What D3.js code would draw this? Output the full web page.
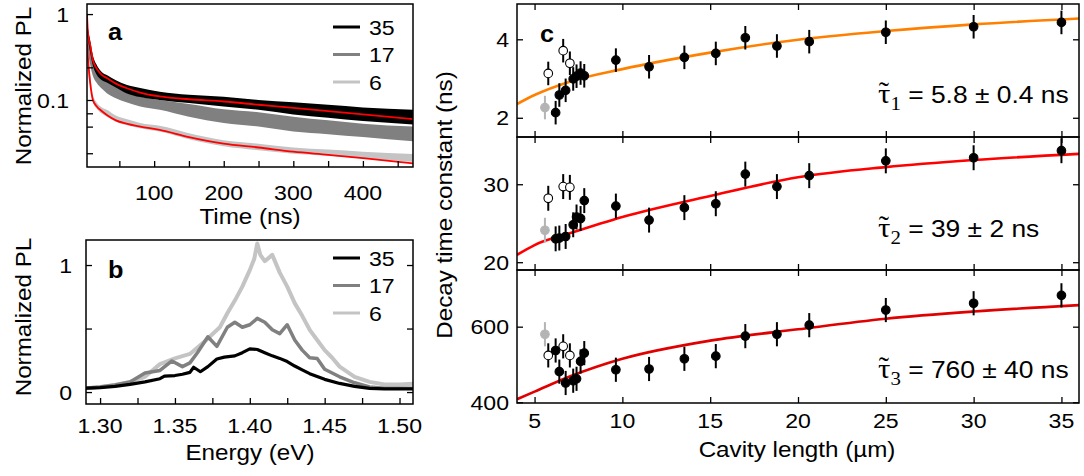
<!DOCTYPE html>
<html>
<head>
<meta charset="utf-8">
<script src="https://cdn.jsdelivr.net/npm/d3@7"></script>
<style>
  body { margin: 0; background: #fff; }
  svg { display: block; }
</style>
</head>
<body>
<svg id="fig" width="1084" height="476"></svg>
<script>
// ---------- panel a: normalized PL decay (log scale) ----------
const decayTime = [3.5, 5, 8, 12, 17, 25, 32, 45, 60, 80, 108, 150, 200, 250, 300, 350, 400, 472];
const decay35Hi = [0.85, 0.68, 0.50, 0.33, 0.26, 0.21, 0.195, 0.17, 0.15, 0.138, 0.125, 0.115, 0.109, 0.100, 0.094, 0.088, 0.082, 0.077];
const decay35Lo = [0.65, 0.50, 0.36, 0.25, 0.20, 0.17, 0.160, 0.14, 0.12, 0.108, 0.100, 0.092, 0.084, 0.077, 0.068, 0.062, 0.057, 0.052];
const decay17Hi = [0.75, 0.55, 0.40, 0.29, 0.23, 0.19, 0.170, 0.145, 0.125, 0.110, 0.100, 0.090, 0.078, 0.072, 0.064, 0.058, 0.053, 0.049];
const decay17Lo = [0.55, 0.38, 0.26, 0.19, 0.16, 0.135, 0.120, 0.105, 0.094, 0.084, 0.077, 0.064, 0.054, 0.049, 0.043, 0.040, 0.037, 0.033];
const decay6Hi  = [0.70, 0.35, 0.20, 0.115, 0.095, 0.082, 0.077, 0.066, 0.060, 0.054, 0.050, 0.041, 0.034, 0.031, 0.028, 0.0265, 0.025, 0.0235];
const decay6Lo  = [0.45, 0.22, 0.15, 0.095, 0.080, 0.069, 0.064, 0.056, 0.051, 0.047, 0.043, 0.035, 0.029, 0.026, 0.0237, 0.0225, 0.021, 0.019];
const decayFit35 = [1.00, 0.58, 0.44, 0.29, 0.235, 0.195, 0.180, 0.155, 0.138, 0.122, 0.110, 0.102, 0.096, 0.088, 0.081, 0.074, 0.068, 0.060];
const decayFit6  = [0.45, 0.30, 0.16, 0.100, 0.085, 0.074, 0.067, 0.058, 0.053, 0.049, 0.045, 0.037, 0.031, 0.028, 0.025, 0.023, 0.021, 0.0183];
const timeTicksMajor = [100, 200, 300, 400];
const timeTicksMinor = [50, 150, 250, 350, 450];
const plTicksMajor = [1, 0.1];
const plTicksMinor = [0.24, 0.07, 0.049, 0.024];

// ---------- panel b: normalized PL spectra ----------
const spec35E = [1.29, 1.30, 1.31, 1.32, 1.33, 1.34, 1.343, 1.35, 1.355, 1.36, 1.3625, 1.367, 1.372, 1.378, 1.383, 1.39, 1.395, 1.40, 1.405, 1.41, 1.415, 1.42, 1.425, 1.43, 1.435, 1.44, 1.45, 1.46, 1.47, 1.48, 1.49, 1.50, 1.51];
const spec35V = [0.03, 0.035, 0.045, 0.06, 0.08, 0.105, 0.125, 0.13, 0.14, 0.155, 0.195, 0.16, 0.2, 0.26, 0.275, 0.285, 0.31, 0.34, 0.335, 0.31, 0.285, 0.265, 0.24, 0.205, 0.175, 0.145, 0.1, 0.068, 0.045, 0.029, 0.025, 0.025, 0.025];
const spec17E = [1.29, 1.30, 1.31, 1.32, 1.33, 1.34, 1.348, 1.355, 1.36, 1.365, 1.372, 1.378, 1.385, 1.39, 1.395, 1.40, 1.405, 1.41, 1.415, 1.42, 1.425, 1.43, 1.435, 1.44, 1.445, 1.45, 1.46, 1.47, 1.48, 1.49, 1.50, 1.51];
const spec17V = [0.03, 0.04, 0.055, 0.08, 0.15, 0.17, 0.245, 0.2, 0.23, 0.31, 0.435, 0.36, 0.51, 0.55, 0.51, 0.53, 0.58, 0.55, 0.49, 0.46, 0.53, 0.41, 0.33, 0.27, 0.265, 0.18, 0.12, 0.073, 0.04, 0.03, 0.03, 0.03];
const spec6E = [1.29, 1.30, 1.31, 1.32, 1.33, 1.34, 1.35, 1.36, 1.37, 1.38, 1.385, 1.39, 1.395, 1.40, 1.403, 1.405, 1.407, 1.41, 1.415, 1.42, 1.425, 1.43, 1.435, 1.44, 1.445, 1.45, 1.455, 1.46, 1.47, 1.48, 1.49, 1.50, 1.51];
const spec6V = [0.03, 0.04, 0.055, 0.08, 0.12, 0.22, 0.265, 0.3, 0.4, 0.51, 0.62, 0.72, 0.83, 0.96, 1.05, 1.17, 1.08, 1.03, 1.08, 0.94, 0.83, 0.7, 0.6, 0.49, 0.41, 0.33, 0.27, 0.2, 0.12, 0.08, 0.06, 0.06, 0.065];
const energyTicksMajor = [1.30, 1.35, 1.40, 1.45, 1.50];
const energyTicksMinor = [1.325, 1.375, 1.425, 1.475];
const specTicks = [0, 0.5, 1];
const specTickLabels = [0, 1];

// ---------- panel c: decay time constants vs cavity length ----------
const cavL  = [6.2, 6.41, 6.77, 7.2, 7.39, 7.62, 7.83, 9.63, 11.52, 13.53, 15.32, 17.0, 18.8, 20.64, 25.0, 30.0, 35.0];
const tau1  = [2.13, 2.58, 2.70, 2.99, 3.06, 3.14, 3.07, 3.47, 3.30, 3.54, 3.64, 4.04, 3.83, 3.94, 4.18, 4.32, 4.43];
const tau2  = [23.0, 23.1, 23.3, 24.8, 25.8, 25.6, 27.9, 27.2, 25.4, 27.0, 27.5, 31.3, 29.7, 31.1, 33.0, 33.4, 34.3];
const tau3  = [537, 481, 451, 457, 462, 508, 530, 486, 488, 515, 522, 575, 580, 604, 644, 662, 683];
const openL = [5.78, 6.63, 7.01];
const open1 = [3.13, 3.71, 3.39];
const open2 = [28.2, 29.7, 29.6];
const open3 = [524, 548, 524];
const greyL = [5.59];
const grey1 = [2.26];
const grey2 = [24.1];
const grey3 = [580];
const tauErr = [0.3, 1.6, 32];
const fitL  = [4, 5, 7, 10, 15, 20, 25, 30, 36];
const fit1  = [2.35, 2.58, 2.92, 3.24, 3.66, 3.99, 4.21, 4.38, 4.53];
const fit2  = [20.94, 22.2, 23.7, 25.8, 28.5, 30.9, 32.2, 33.1, 33.9];
const fit3  = [408, 428, 468, 515, 563, 593, 621, 640, 657];
const lengthTicks = [5, 10, 15, 20, 25, 30, 35];
const tauTicks = [[2, 4], [20, 30], [400, 600]];
const tauFits = ["5.8 \u00b1 0.4 ns", "39 \u00b1 2 ns", "760 \u00b1 40 ns"];

const legendLabels = ["35", "17", "6"];
const seriesColors = ["#000000", "#808080", "#c4c4c4"];

const SANS = "'Liberation Sans', Arial, Helvetica, sans-serif";
const SERIF = "'Liberation Serif', 'Times New Roman', serif";
const SX = 1.1; // horizontal stretch of the lettering

const svg = d3.select("#fig");

function txt(g, x, y, s, o = {}) {
  const t = g.append("text")
    .attr("transform", `translate(${x},${y})${o.rotate ? ` rotate(${o.rotate})` : ""} scale(${SX},1)`)
    .attr("text-anchor", o.anchor || "middle")
    .attr("font-family", o.family || SANS)
    .attr("font-size", o.size || 21)
    .attr("font-weight", o.weight || "normal")
    .attr("fill", "#000")
    .text(s);
  if (o.dy) t.attr("dy", o.dy);
  return t;
}

function ticks(g, axisFn, scale, vals, tr, size = -6) {
  const a = g.append("g").attr("transform", tr)
    .call(axisFn(scale).tickValues(vals).tickSize(size).tickFormat(""));
  a.select(".domain").remove();
  a.selectAll("line").attr("stroke", "#000").attr("stroke-width", 1.3);
}

function frame(g, x0, y0, x1, y1) {
  g.append("rect").attr("x", x0).attr("y", y0).attr("width", x1 - x0).attr("height", y1 - y0)
    .attr("fill", "none").attr("stroke", "#000").attr("stroke-width", 1.5);
}

function clip(id, x0, y0, x1, y1) {
  svg.append("clipPath").attr("id", id).append("rect")
    .attr("x", x0).attr("y", y0).attr("width", x1 - x0).attr("height", y1 - y0);
}

// ======== panel a ========
{
  const L = 87, R = 413, T = 4, B = 167;
  const x = d3.scaleLinear([3.5, 472], [L, R]);
  const y = d3.scaleLog([0.0166, 1.31], [B, T]);
  clip("clipA", L, T, R, B);
  const g = svg.append("g");
  const plot = g.append("g").attr("clip-path", "url(#clipA)");
  const band = (hi, lo) => d3.area()
    .x((d, i) => x(decayTime[i])).y0((d, i) => y(lo[i])).y1((d, i) => y(hi[i]))
    .curve(d3.curveMonotoneX)(decayTime);
  const line = (v) => d3.line().x((d, i) => x(decayTime[i])).y((d, i) => y(v[i]))
    .curve(d3.curveMonotoneX)(decayTime);
  plot.append("path").attr("d", band(decay6Hi, decay6Lo)).attr("fill", seriesColors[2]);
  plot.append("path").attr("d", band(decay17Hi, decay17Lo)).attr("fill", seriesColors[1]);
  plot.append("path").attr("d", band(decay35Hi, decay35Lo)).attr("fill", seriesColors[0]);
  plot.append("path").attr("d", line(decayFit35)).attr("fill", "none").attr("stroke", "#ff0000").attr("stroke-width", 1.8);
  plot.append("path").attr("d", line(decayFit6)).attr("fill", "none").attr("stroke", "#ff0000").attr("stroke-width", 1.8);

  ticks(g, d3.axisBottom, x, timeTicksMajor.concat(timeTicksMinor), `translate(0,${B})`);
  ticks(g, d3.axisLeft, y, plTicksMajor.concat(plTicksMinor), `translate(${L},0)`);
  frame(g, L, T, R, B);

  timeTicksMajor.forEach(v => txt(g, x(v), 200, String(v)));
  plTicksMajor.forEach(v => txt(g, 69, y(v), String(v), { anchor: "end", dy: "0.36em" }));
  txt(g, 250, 224, "Time (ns)", { size: 22 });
  txt(g, 31, 86, "Normalized PL", { size: 22, rotate: -90 });
  txt(g, 108, 40, "a", { size: 23, weight: "bold", anchor: "start" });

  legendLabels.forEach((s, i) => {
    const ly = 27 + i * 27.5;
    g.append("line").attr("x1", 333).attr("x2", 360).attr("y1", ly).attr("y2", ly)
      .attr("stroke", seriesColors[i]).attr("stroke-width", 3);
    txt(g, 369, ly + 7.5, s, { anchor: "start" });
  });
}

// ======== panel b ========
{
  const L = 86, R = 413, T = 240, B = 404;
  const x = d3.scaleLinear([1.2906, 1.509], [L, R]);
  const y = d3.scaleLinear([-0.094, 1.197], [B, T]);
  clip("clipB", L, T, R, B);
  const g = svg.append("g");
  const plot = g.append("g").attr("clip-path", "url(#clipB)");
  const line = (E, V) => d3.line().x((d, i) => x(E[i])).y((d, i) => y(V[i])).curve(d3.curveLinear)(E);
  plot.append("path").attr("d", line(spec6E, spec6V)).attr("fill", "none").attr("stroke", seriesColors[2]).attr("stroke-width", 4).attr("stroke-linejoin", "round");
  plot.append("path").attr("d", line(spec17E, spec17V)).attr("fill", "none").attr("stroke", seriesColors[1]).attr("stroke-width", 3.5).attr("stroke-linejoin", "round");
  plot.append("path").attr("d", line(spec35E, spec35V)).attr("fill", "none").attr("stroke", seriesColors[0]).attr("stroke-width", 3.2).attr("stroke-linejoin", "round");

  ticks(g, d3.axisBottom, x, energyTicksMajor.concat(energyTicksMinor), `translate(0,${B})`);
  ticks(g, d3.axisLeft, y, specTicks, `translate(${L},0)`);
  ticks(g, d3.axisRight, y, specTicks, `translate(${R},0)`);
  frame(g, L, T, R, B);

  energyTicksMajor.forEach(v => txt(g, x(v), 433, v.toFixed(2)));
  specTickLabels.forEach(v => txt(g, 72, y(v), String(v), { anchor: "end", dy: "0.36em" }));
  txt(g, 250, 460, "Energy (eV)", { size: 22 });
  txt(g, 31, 317, "Normalized PL", { size: 22, rotate: -90 });
  txt(g, 108, 278, "b", { size: 23, weight: "bold", anchor: "start" });

  legendLabels.forEach((s, i) => {
    const ly = 258 + i * 27.5;
    g.append("line").attr("x1", 333).attr("x2", 360).attr("y1", ly).attr("y2", ly)
      .attr("stroke", seriesColors[i]).attr("stroke-width", 3);
    txt(g, 369, ly + 7.5, s, { anchor: "start" });
  });
}

// ======== panel c ========
{
  const L = 517, R = 1079;
  const rows = [[4, 137], [137, 270], [270, 403]];
  const domains = [[1.51, 4.9], [19.0, 36.06], [398, 750]];
  const vals = [tau1, tau2, tau3];
  const opens = [open1, open2, open3];
  const greys = [grey1, grey2, grey3];
  const fits = [fit1, fit2, fit3];
  const fitColors = ["#ff8000", "#ff0000", "#e00000"];
  const x = d3.scaleLinear([4, 36], [L, R]);
  const g = svg.append("g");

  rows.forEach(([T, B], k) => {
    const y = d3.scaleLinear(domains[k], [B, T]);
    const e = tauErr[k];
    clip("clipC" + k, L, T, R, B);
    const plot = g.append("g").attr("clip-path", `url(#clipC${k})`);

    plot.append("path")
      .attr("d", d3.line().x((d, i) => x(fitL[i])).y((d, i) => y(fits[k][i])).curve(d3.curveMonotoneX)(fitL))
      .attr("fill", "none").attr("stroke", fitColors[k]).attr("stroke-width", 2.6);

    const points = (Ls, Vs, fill, stroke, barColor) => {
      Ls.forEach((l, i) => {
        plot.append("line").attr("x1", x(l)).attr("x2", x(l))
          .attr("y1", y(Vs[i] - e)).attr("y2", y(Vs[i] + e))
          .attr("stroke", barColor).attr("stroke-width", 2);
        plot.append("circle").attr("cx", x(l)).attr("cy", y(Vs[i])).attr("r", 4.3)
          .attr("fill", fill).attr("stroke", stroke).attr("stroke-width", 1.1);
      });
    };
    points(greyL, greys[k], "#b4b4b4", "#b4b4b4", "#b4b4b4");
    points(openL, opens[k], "#ffffff", "#000", "#000");
    points(cavL, vals[k], "#000", "#000", "#000");

    ticks(g, d3.axisTop, x, lengthTicks, `translate(0,${T})`);
    ticks(g, d3.axisBottom, x, lengthTicks, `translate(0,${B})`);
    ticks(g, d3.axisLeft, y, tauTicks[k], `translate(${L},0)`);
    ticks(g, d3.axisRight, y, tauTicks[k], `translate(${R},0)`);
    frame(g, L, T, R, B);

    tauTicks[k].forEach(v => txt(g, 509, y(v), String(v), { anchor: "end", dy: "0.36em" }));

    // fitted asymptotic time constant
    const base = [103, 237, 378][k];
    const ann = g.append("text")
      .attr("transform", `translate(878,${base}) scale(${SX},1)`)
      .attr("font-family", SANS).attr("font-size", 24).attr("fill", "#000");
    ann.append("tspan").attr("font-family", SERIF).attr("font-size", 28).text("\u03c4");
    ann.append("tspan").attr("font-family", SERIF).attr("font-size", 19).attr("dy", 7).text(String(k + 1));
    ann.append("tspan").attr("dy", -7).text(" = " + tauFits[k]);
    g.append("text")
      .attr("transform", `translate(884,${base - 2}) scale(${SX},1)`)
      .attr("text-anchor", "middle").attr("font-family", SERIF).attr("font-size", 28)
      .attr("fill", "#000").text("\u02dc");
  });

  lengthTicks.forEach(v => txt(g, x(v), 428, String(v)));
  txt(g, 797, 457, "Cavity length (\u00b5m)", { size: 22 });
  txt(g, 452, 205, "Decay time constant (ns)", { size: 22, rotate: -90 });
  txt(g, 540, 42, "c", { size: 23, weight: "bold", anchor: "start" });
}
</script>
</body>
</html>
